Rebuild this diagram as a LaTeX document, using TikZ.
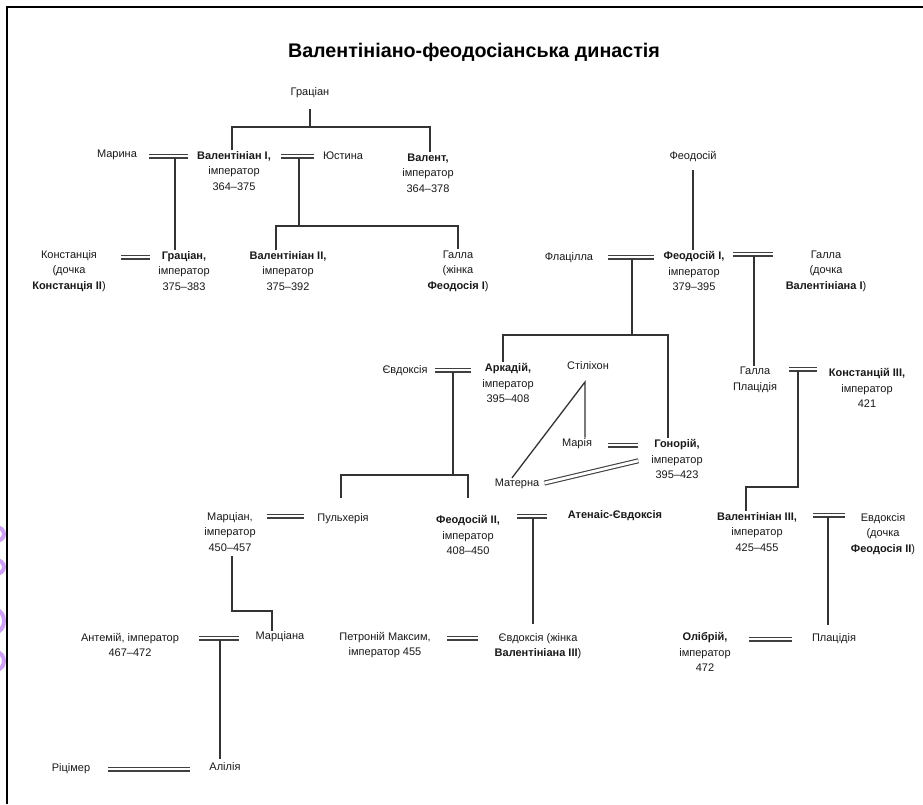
\documentclass[tikz,border=0pt]{standalone}
\usepackage{fontspec}
\setmainfont{Liberation Sans}
\definecolor{lilac}{HTML}{CFA2F7}

\begin{document}
\begin{tikzpicture}[x=1pt, y=-1pt, font=\fontsize{11pt}{15.5pt}\selectfont]

% ---------- Helper styles ----------
\tikzset{
  pers/.style={align=center, inner sep=1pt, text=black!90},
  kin/.style={draw=black!80, line width=1.3pt},
  marr/.style={draw=black!75, line width=1.1pt, double=white, double distance=2.8pt}
}

% ---------- Page and frame ----------
\useasboundingbox (0,0) rectangle (923,804);
\fill[white] (0,0) rectangle (923,804);
\draw[line width=2pt] (7,804) -- (7,7) -- (923,7);
\begin{scope}
  \clip (0,500) rectangle (6,700);
  \foreach \ya/\r in {534/7, 567/7, 621/11, 661/9} {
    \draw[lilac, line width=4pt] (-4,\ya) ellipse (8 and \r);
  }
\end{scope}

% ---------- Title ----------
\node[font=\fontsize{19.7pt}{22pt}\selectfont\bfseries] (title) at (474,52) {Валентініано-феодосіанська династія};

% ---------- Generation 0-1 ----------
\node[pers] (gratF) at (310,93) {Граціан};
\node[pers] (marina) at (117,155) {Марина};
\node[pers] (valI) at (234,171) {\textbf{Валентініан I,}\\імператор\\364–375};
\node[pers] (justina) at (343,156) {Юстина};
\node[pers] (valens) at (428,173) {\textbf{Валент,}\\імператор\\364–378};
\node[pers] (theodF) at (693,157) {Феодосій};

% ---------- Generation 2 ----------
\node[pers] (constantia) at (69,271) {Констанція\\(дочка\\\textbf{Констанція II})};
\node[pers] (gratian) at (184,271) {\textbf{Граціан,}\\імператор\\375–383};
\node[pers] (valII) at (288,271) {\textbf{Валентініан II,}\\імператор\\375–392};
\node[pers] (galla1) at (458,271) {Галла\\(жінка\\\textbf{Феодосія I})};
\node[pers] (flacilla) at (569,258) {Флацілла};
\node[pers] (theodI) at (694,271) {\textbf{Феодосій I,}\\імператор\\379–395};
\node[pers] (galla2) at (826,271) {Галла\\(дочка\\\textbf{Валентініана I})};

% ---------- Generation 3 ----------
\node[pers] (evdoxia1) at (405,371) {Євдоксія};
\node[pers] (arcadius) at (508,383) {\textbf{Аркадій,}\\імператор\\395–408};
\node[pers] (stilicho) at (588,366) {Стіліхон};
\node[pers] (maria) at (577,444) {Марія};
\node[pers] (honorius) at (677,459) {\textbf{Гонорій,}\\імператор\\395–423};
\node[pers] (materna) at (517,484) {Матерна};
\node[pers] (gallaP) at (755,380) {Галла\\Плацідія};
\node[pers] (constIII) at (867,388) {\textbf{Констанцій III,}\\імператор\\421};

% ---------- Generation 4 ----------
\node[pers] (marcian) at (230,532) {Марціан,\\імператор\\450–457};
\node[pers] (pulcheria) at (343,519) {Пульхерія};
\node[pers] (theodII) at (468,535) {\textbf{Феодосій II,}\\імператор\\408–450};
\node[pers] (athenais) at (615,516) {\textbf{Атенаіс-Євдоксія}};
\node[pers] (valIII) at (757,532) {\textbf{Валентініан III,}\\імператор\\425–455};
\node[pers] (evdoxia2) at (883,534) {Евдоксія\\(дочка\\\textbf{Феодосія II})};

% ---------- Generation 5-6 ----------
\node[pers] (anthemius) at (130,645) {Антемій, імператор\\467–472};
\node[pers] (marciana) at (280,637) {Марціана};
\node[pers] (petronius) at (385,645) {Петроній Максим,\\імператор 455};
\node[pers] (evdoxia3) at (538,646) {Євдоксія (жінка\\\textbf{Валентініана III})};
\node[pers] (olybrius) at (705,652) {\textbf{Олібрій,}\\імператор\\472};
\node[pers] (placidia) at (834,639) {Плацідія};
\node[pers] (ricimer) at (71,769) {Ріцімер};
\node[pers] (alypia) at (225,767) {Алілія};

% ---------- Marriages ----------
\foreach \a/\b/\y/\s/\t in {
  marina/valI/156/11pt/8pt, valI/justina/156/9pt/8pt,
  constantia/gratian/257/14pt/7pt, flacilla/theodI/257/14pt/8pt,
  theodI/galla2/254/7pt/12pt, evdoxia1/arcadius/370/6pt/10pt,
  maria/honorius/445/15pt/12pt, gallaP/constIII/369/11pt/11pt,
  marcian/pulcheria/516/10pt/12pt, theodII/athenais/516/16pt/20pt,
  valIII/evdoxia2/515/15pt/5pt, petronius/evdoxia3/638/15pt/16pt,
  anthemius/marciana/638/19pt/16pt, olybrius/placidia/639/17pt/19pt,
  ricimer/alypia/769/17pt/18pt
}{
  \draw[marr, shorten <=\s, shorten >=\t] (\a.east |- 0,\y) -- (\b.west |- 0,\y);
}
\draw[marr, shorten <=4pt, shorten >=12pt] (materna.east) -- (honorius.west |- 0,458);

% ---------- Descent ----------
\coordinate (b0) at (310,127);
\draw[kin, shorten <=10pt] (gratF.south) -- (b0);
\draw[kin] ([xshift=-2pt]valI.north) |- (b0) -| ([xshift=2pt]valens.north);

\coordinate (c1) at (175,158);
\draw[kin] (c1) -- (c1 |- gratian.north);

\coordinate (c2) at (299,158);
\coordinate (b2) at (299,226);
\draw[kin] (c2) -- (b2);
\draw[kin] ([xshift=-12pt]valII.north) |- (b2) -| (galla1.north);

\draw[kin, shorten <=7pt] (theodF.south) -- (theodF.south |- theodI.north);

\coordinate (c3) at (632,259);
\coordinate (b3) at (632,335);
\draw[kin] (c3) -- (b3);
\draw[kin] ([xshift=-5pt]arcadius.north) |- (b3) -| ([xshift=-9pt]honorius.north);

\coordinate (c4) at (754,256);
\draw[kin] (c4) -- (c4 |- gallaP.north);

\coordinate (c5) at (453,372);
\coordinate (b5) at (453,475);
\draw[kin] (c5) -- (b5);
\draw[kin, shorten <=15pt, shorten >=16pt] ([xshift=-2pt]pulcheria.north) |- (b5) -| (theodII.north);

\coordinate (apex) at (585,382);
\draw[kin] (apex |- maria.north) -- (apex) -- ([xshift=-5pt]materna.north);

\coordinate (c6) at (798,371);
\coordinate (b6) at (798,487);
\draw[kin] (c6) -- (b6) -| ([xshift=-11pt]valIII.north);

\coordinate (b7) at (232,611);
\draw[kin, shorten <=3pt] ([xshift=2pt]marcian.south) -- (b7) -| ([xshift=-8pt]marciana.north);

\coordinate (c8) at (533,518);
\draw[kin, shorten >=8pt] (c8) -- (c8 |- evdoxia3.north);

\coordinate (c9) at (828,517);
\draw[kin, shorten >=8pt] (c9) -- (c9 |- placidia.north);

\coordinate (c10) at (220,640);
\draw[kin, shorten >=3pt] (c10) -- (c10 |- alypia.north);

\end{tikzpicture}
\end{document}
